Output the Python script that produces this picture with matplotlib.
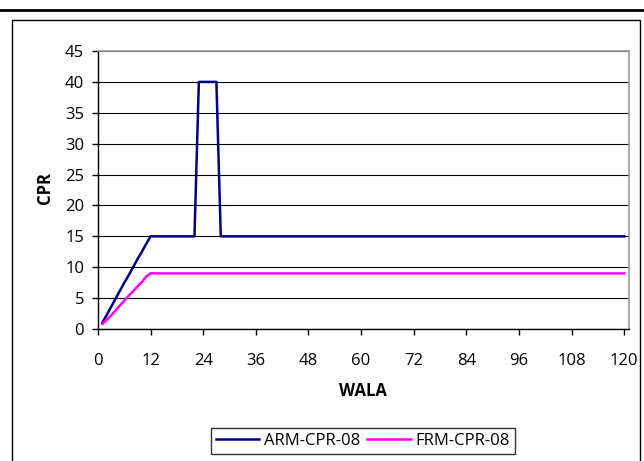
import matplotlib
matplotlib.use("Agg")
import matplotlib.pyplot as plt
from matplotlib.lines import Line2D
from matplotlib.patches import Rectangle

plt.rcParams['font.family'] = ['Open Sans', 'DejaVu Sans']

# WALA months 1..120
wala = list(range(1, 121))

# ARM-CPR-08: ramp to 15 by month 12, spike to 40 for months 23-27, then 15
arm_ramp = [1.0, 2.3, 3.6, 4.9, 6.2, 7.5, 8.7, 10.0, 11.3, 12.5, 13.8, 15.0]
arm_cpr = arm_ramp + [15.0] * 10 + [40.0] * 5 + [15.0] * 93

# FRM-CPR-08: ramp to 9 by month 12, then flat
frm_ramp = [0.8, 1.5, 2.2, 3.0, 3.8, 4.6, 5.4, 6.1, 6.9, 7.6, 8.5, 9.0]
frm_cpr = frm_ramp + [9.0] * 108

x_ticks = [0, 12, 24, 36, 48, 60, 72, 84, 96, 108, 120]
y_ticks = [0, 5, 10, 15, 20, 25, 30, 35, 40, 45]

fs = 12

fig = plt.figure(figsize=(6.44, 4.61), dpi=100)

# outer frame and top rule
fig.add_artist(Rectangle((12 / 644, -0.02), (640 - 12) / 644, 0.9566 + 0.02,
                         transform=fig.transFigure, fill=False, edgecolor='black', lw=1.0))
fig.add_artist(Line2D([0, 1], [0.978, 0.978], transform=fig.transFigure, color='black', lw=2.0))

ax = fig.add_axes([98 / 644, 132 / 461, (629 - 98) / 644, (329 - 51) / 461])

ax.plot(wala, arm_cpr, color='#000080', lw=1.8, label='ARM-CPR-08', zorder=3)
ax.plot(wala, frm_cpr, color='#FF00FF', lw=1.8, label='FRM-CPR-08', zorder=3)

ax.set_xlim(0, 121.1)
ax.set_ylim(0, 45)
ax.set_xticks(x_ticks)
ax.set_yticks(y_ticks)
ax.yaxis.grid(True, color='black', lw=0.8)
ax.set_axisbelow(True)

for s in ['top', 'right']:
    ax.spines[s].set_color('#999999')
    ax.spines[s].set_linewidth(1.2)
for s in ['left', 'bottom']:
    ax.spines[s].set_color('black')
    ax.spines[s].set_linewidth(1.0)

ax.tick_params(axis='y', direction='out', length=4, width=1, pad=6, labelsize=fs)
ax.tick_params(axis='x', direction='out', length=4, width=1, pad=13, labelsize=fs)

fig.text(363 / 644, 1 - 391 / 461, 'WALA', ha='center', va='center', fontsize=fs, fontweight='bold')
fig.text(45 / 644, 1 - 188 / 461, 'CPR', ha='center', va='center', fontsize=fs,
         fontweight='bold', rotation=90)

leg = fig.legend(loc='center', bbox_to_anchor=(363 / 644, 1 - 441 / 461), ncol=2,
                 frameon=True, fancybox=False, edgecolor='black', fontsize=fs,
                 handlelength=2.6, columnspacing=0.4, handletextpad=0.3,
                 borderpad=0.3, borderaxespad=0)
leg.get_frame().set_linewidth(1.0)

fig.savefig('out.png', dpi=100)
